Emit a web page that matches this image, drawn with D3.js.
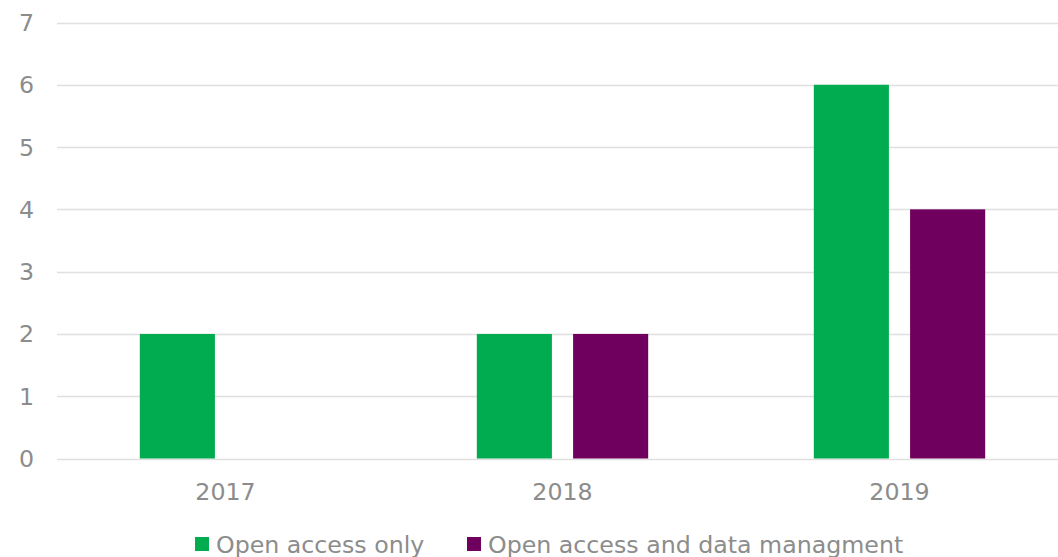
<!DOCTYPE html>
<html>
<head>
<meta charset="utf-8">
<script src="https://cdn.jsdelivr.net/npm/d3@7"></script>
<style>
  body { margin: 0; background: #fff; }
  svg { display: block; font-family: "DejaVu Sans", Verdana, sans-serif; }
</style>
</head>
<body>
<div id="root"></div>
<script>
const width = 1058;
const height = 557;

const years = ['2017', '2018', '2019'];
const seriesNames = ['Open access only', 'Open access and data managment'];
const openAccessOnly = [2, 2, 6];
const openAccessData = [0, 2, 4];
const yTicks = [0, 1, 2, 3, 4, 5, 6, 7];
const colors = ['#00ac4f', '#70005e'];

const textColor = '#8c8c8c';
const gridColor = '#e0e0e0';
const fontSize = '23.7px';

const data = years.map((y, i) => ({
	year: y,
	values: [openAccessOnly[i], openAccessData[i]]
}));

const svg = d3.select('#root')
	.append('svg')
	.attr('width', width)
	.attr('height', height);

// plot area runs past the right edge, like the cropped original
const x0 = d3.scaleBand()
	.domain(years)
	.range([57, 1068])
	.padding(0);

const x1 = d3.scaleBand()
	.domain([0, 1])
	.range([0, x0.bandwidth()])
	.paddingInner(0.22)
	.paddingOuter(0.86);

const y = d3.scaleLinear()
	.domain([0, 7])
	.range([458.5, 22.5]);

// gridlines
svg.append('g')
	.selectAll('line')
	.data(yTicks).enter()
	.append('line')
		.attr('x1', 57)
		.attr('x2', width)
		.attr('y1', d => Math.round(y(d)) + 0.5)
		.attr('y2', d => Math.round(y(d)) + 0.5)
		.style('stroke', gridColor)
		.style('stroke-width', 1.5);

// y labels
svg.append('g')
	.selectAll('text')
	.data(yTicks).enter()
	.append('text')
		.attr('x', 34)
		.attr('y', d => y(d) + 8.5)
		.attr('text-anchor', 'end')
		.style('fill', textColor)
		.style('font-size', fontSize)
		.text(d => d);

// bars
const groups = svg.append('g')
	.selectAll('.year')
	.data(data).enter()
	.append('g')
		.attr('class', 'year')
		.attr('transform', d => `translate(${x0(d.year)},0)`);

groups.selectAll('rect')
	.data(d => d.values.map((v, i) => ({ v, i })))
	.enter()
	.append('rect')
		.attr('x', d => x1(d.i))
		.attr('width', x1.bandwidth())
		.attr('y', d => y(d.v))
		.attr('height', d => y(0) - y(d.v))
		.style('fill', d => colors[d.i]);

// x labels
svg.append('g')
	.selectAll('text')
	.data(years).enter()
	.append('text')
		.attr('x', d => x0(d) + x0.bandwidth() / 2)
		.attr('y', 500)
		.attr('text-anchor', 'middle')
		.style('fill', textColor)
		.style('font-size', fontSize)
		.text(d => d);

// legend
const legendX = [195, 467];
const legend = svg.append('g')
	.selectAll('g')
	.data(seriesNames).enter()
	.append('g')
		.attr('transform', (d, i) => `translate(${legendX[i]},0)`);

legend.append('rect')
	.attr('x', 0)
	.attr('y', 537)
	.attr('width', 14)
	.attr('height', 14)
	.style('fill', (d, i) => colors[i]);

legend.append('text')
	.attr('x', 21)
	.attr('y', 553)
	.style('fill', textColor)
	.style('font-size', fontSize)
	.text(d => d);
</script>
</body>
</html>
